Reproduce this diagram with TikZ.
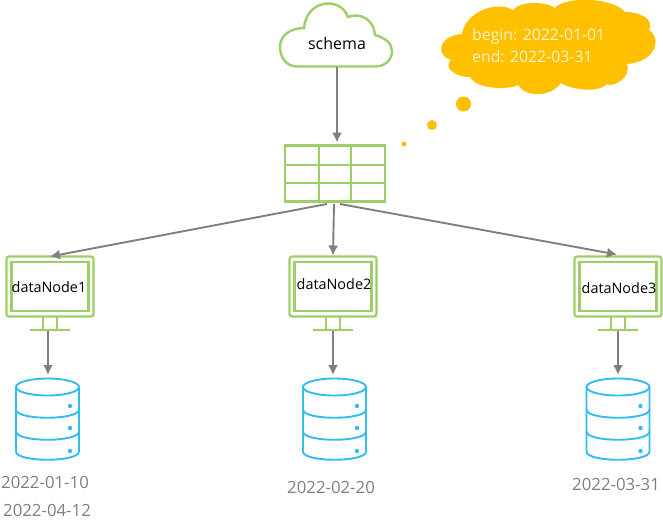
\documentclass[tikz,border=0pt]{standalone}
\usepackage{fontspec}
\setmainfont{Open Sans}
\usetikzlibrary{calc, arrows.meta}
\definecolor{leaf}{HTML}{9CCF66}
\definecolor{sky}{HTML}{33BBF3}
\definecolor{amber}{HTML}{FFC000}
\definecolor{wire}{HTML}{7F7F7F}
\definecolor{cream}{HTML}{FFF2CC}
\tikzstyle{screen}=[draw=leaf, line width=2.2pt, rounded corners=2.5pt, minimum width=87pt, minimum height=60pt, inner sep=0pt, outer sep=0pt]
\tikzstyle{panel}=[draw=leaf, line width=2.2pt, minimum width=77pt, minimum height=49pt, inner sep=0pt, outer sep=0pt]
\tikzstyle{stand}=[draw=leaf, line width=2pt]
\tikzstyle{can}=[draw=sky, line width=1.9pt]
\tikzstyle{slot}=[minimum width=63pt, minimum height=85pt, inner sep=0pt, outer sep=0pt]
\tikzstyle{grid}=[draw=leaf, line width=2.2pt]
\tikzstyle{flow}=[-{Latex[length=10pt,width=10pt]}, draw=wire, line width=1.9pt]
\tikzstyle{blob}=[fill=amber, circle, inner sep=0pt]
\tikzstyle{lbl}=[font=\fontsize{14.4}{17}\selectfont, inner sep=0pt]
\tikzstyle{date}=[font=\fontsize{16.8}{18}\selectfont, text=wire, inner sep=0pt]
% monitor with its foot: name, x
\newcommand{\monitor}[2]{
  \node [screen] (#1) at (#2,286.5) {};
  \node [panel] (#1in) at (#1) {};
  \draw [stand] ($(#1.south)+(-7,0)$) -- ++(0,13) ($(#1.south)+(7,0)$) -- ++(0,13);
  \draw [stand] ($(#1.south)+(-20,13)$) -- ++(40,0);
  \coordinate (#1foot) at ($(#1.south)+(0,14)$);
}
% database stack: name, x
\newcommand{\database}[2]{
  \node [slot] (#1) at (#2,420.5) {};
  \begin{scope}[shift={(#1.center)}]
    \draw [can] (0,-33.5) ellipse [x radius=31.5, y radius=8.5];
    \draw [can] (-31.5,-33.5) -- (-31.5,31) .. controls (-31.5,42) and (31.5,42) .. (31.5,31) -- (31.5,-33.5);
    \draw [can] (-31.5,-11) .. controls (-31.5,0) and (31.5,0) .. (31.5,-11);
    \draw [can] (-31.5,11) .. controls (-31.5,22) and (31.5,22) .. (31.5,11);
    \foreach \dy in {-14.5,7.5,30.5}
      \fill [sky] (22.5,\dy) circle (2.2pt);
  \end{scope}
}

\begin{document}
\begin{tikzpicture}[x=1pt,y=-1pt]
  \useasboundingbox (0,0) rectangle (663,520);

  % clouds
  \draw [leaf, line width=2.4pt, fill=white] (297,66.5) .. controls (286,66.5) and (280,57) .. (280,47)
    .. controls (280,35) and (291,28) .. (304,28) .. controls (305,13) and (316,3.5) .. (328,3.5)
    .. controls (338,3.5) and (345,9) .. (348,17) .. controls (361,12) and (374,20) .. (375,35)
    .. controls (386,38) and (392,44) .. (392,51) .. controls (392,60) and (385,66.5) .. (375,66.5) -- cycle;
  \node [lbl, font=\fontsize{16}{19}\selectfont, minimum height=48pt] (schema) at (337,43) {schema};
  \fill [amber] (462,34) .. controls (465,12) and (497,0) .. (513,10)
    .. controls (520,1) and (545,1) .. (555,8) .. controls (565,-4) and (612,-3) .. (625,12)
    .. controls (642,12) and (654,20) .. (649,30) .. controls (662,38) and (656,62) .. (627,64)
    .. controls (632,78) and (612,88) .. (607,84) .. controls (597,94) and (570,89) .. (561,83)
    .. controls (550,98) and (525,97) .. (518,85) .. controls (505,91) and (475,88) .. (470,77)
    .. controls (458,78) and (442,68) .. (451,60) .. controls (435,55) and (438,36) .. (462,34) -- cycle;
  \node [lbl, text=cream, align=left, anchor=west, font=\fontsize{15.8}{22}\selectfont] (note) at (472,45.5) {begin: 2022-01-01\\end: 2022-03-31};
  \node [blob, minimum size=15pt] (big) at (463.5,104) {};
  \node [blob, minimum size=10pt] (mid) at (432,125) {};
  \node [blob, minimum size=5pt] (small) at (404,144) {};

  % table
  \node [grid, minimum width=100pt, minimum height=56pt, inner sep=0pt, outer sep=0pt] (tbl) at (335,173.5) {};
  \draw [grid] (319,145.5) -- (319,201.5) (351,145.5) -- (351,201.5);
  \draw [grid] (285,165) -- (385,165) (285,183) -- (385,183);
  \coordinate (tblL) at ($(tbl.south)+(-8,2.5)$);
  \coordinate (tblM) at ($(tbl.south)+(-1,2.5)$);
  \coordinate (tblR) at ($(tbl.south)+(5,2.5)$);

  % nodes and stores
  \monitor{mon1}{50}
  \monitor{mon2}{333}
  \monitor{mon3}{618}
  \node [lbl] (txt1) at (49,287) {dataNode1};
  \node [lbl] (txt2) at (334,284) {dataNode2};
  \node [lbl] (txt3) at (619,288) {dataNode3};
  \database{db1}{47.5}
  \database{db2}{334.5}
  \database{db3}{618}
  \node [date] (d1) at (45,482) {2022-01-10};
  \node [date] (d1b) at (47,510.5) {2022-04-12};
  \node [date] (d2) at (331,487) {2022-02-20};
  \node [date] (d3) at (616,484) {2022-03-31};

  % arrows
  \draw [flow] (schema.south) -- ($(tbl.north -| schema)+(0,-3)$);
  \draw [flow] (tblL) -- (mon1.north);
  \draw [flow] (tblM) -- ($(mon2.north)+(0,-1)$);
  \draw [flow] (tblR) -- ($(mon3.north)+(-1,-2)$);
  \draw [flow] ($(mon1foot)+(-2,0)$) -- ($(db1.north)+(0.5,-3)$);
  \draw [flow] (mon2foot) -- ($(mon2foot |- db2.north)+(0,-3)$);
  \draw [flow] (mon3foot) -- ($(mon3foot |- db3.north)+(0,-3)$);
\end{tikzpicture}
\end{document}
